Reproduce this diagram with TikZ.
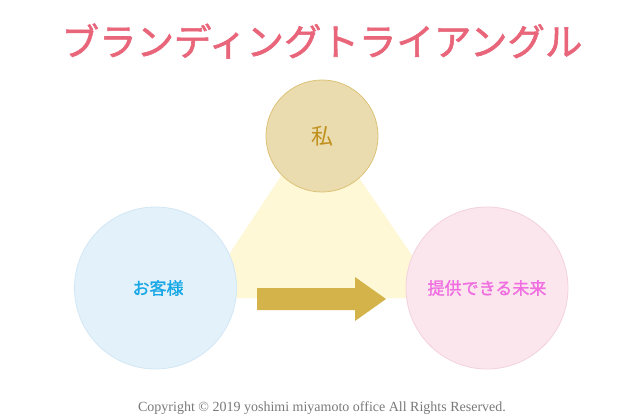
\documentclass[tikz,border=0pt]{standalone}
\usepackage{fontspec}
\newfontfamily\cjk{Noto Sans CJK JP}
\newfontfamily\cjkb[FakeBold=1.5]{Noto Sans CJK JP}
\setmainfont{Liberation Serif}
\definecolor{titlecol}{HTML}{E8657A}
\definecolor{trap}{HTML}{FEF8D6}
\definecolor{arrowcol}{HTML}{D4B44A}
\definecolor{mefill}{HTML}{EADCAE}
\definecolor{meline}{HTML}{DCC276}
\definecolor{metext}{HTML}{C0901E}
\definecolor{cufill}{HTML}{E3F1FA}
\definecolor{culine}{HTML}{D2E7F5}
\definecolor{cutext}{HTML}{18A8E6}
\definecolor{fufill}{HTML}{FBE6EE}
\definecolor{fuline}{HTML}{F3D2DE}
\definecolor{futext}{HTML}{F06EE0}
\definecolor{copycol}{HTML}{7A7A7A}
\tikzset{
  bubble/.style={circle, inner sep=0pt, line width=0.8pt},
  lbl/.style={font=\cjkb\fontsize{17}{20}\selectfont},
}
\begin{document}
\begin{tikzpicture}[x=1pt,y=-1pt]
\useasboundingbox[fill=white] (0,0) rectangle (640,416);
% title
\node[text=titlecol, font=\cjkb\fontsize{37.5}{42}\selectfont] (title) at (322,41) {ブランディングトライアングル};
% triangle background
\fill[trap] (319,119) -- (441,298) -- (200,298) -- cycle;
% circles
\node[bubble, fill=mefill, draw=meline, minimum size=112pt] (me) at (322,136) {};
\node[bubble, fill=cufill, draw=culine, minimum size=162pt] (cust) at (155.5,288) {};
\node[bubble, fill=fufill, draw=fuline, minimum size=162pt] (fut) at (487,288) {};
\node[text=metext, font=\cjk\fontsize{22}{24}\selectfont] (melbl) at (me.center) {私};
\node[text=cutext, lbl] (custlbl) at (158,288) {お客様};
\node[text=futext, lbl] (futlbl) at (487,288) {提供できる未来};
% arrow
\fill[arrowcol] (257,288) -- (355,288) -- (355,277) -- (386,299) -- (355,321) -- (355,310) -- (257,310) -- cycle;
% copyright
\node[text=copycol, font=\fontsize{14}{16}\selectfont] (copy) at (322,408) {Copyright © 2019 yoshimi miyamoto office All Rights Reserved.};
\end{tikzpicture}
\end{document}
